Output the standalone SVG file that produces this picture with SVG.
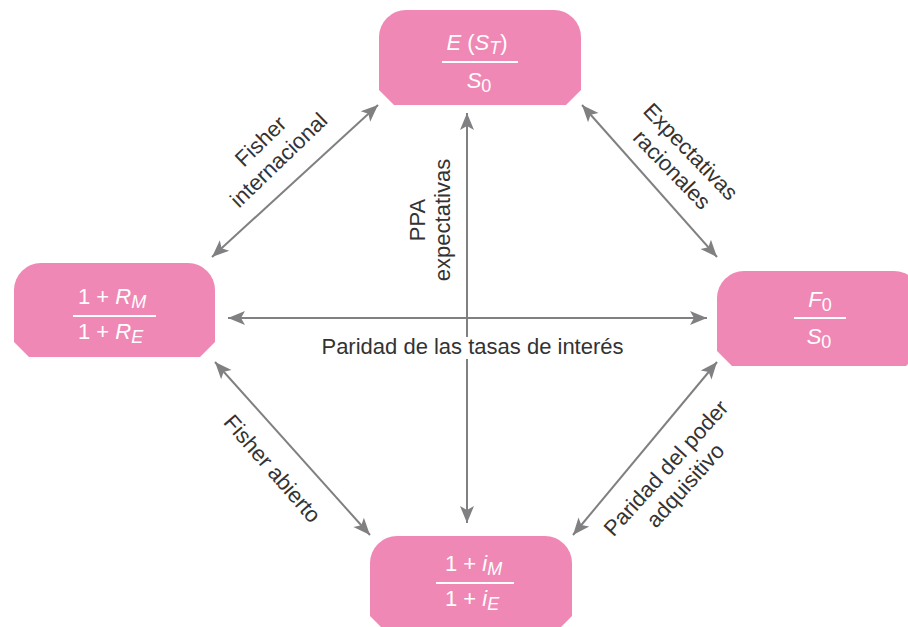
<svg xmlns="http://www.w3.org/2000/svg" width="908" height="627" viewBox="0 0 908 627">
<defs>
<style>
.node{fill:#F088B5;}
.frac{stroke:#ffffff;stroke-width:2;}
.nt{font-family:"Liberation Sans",Arial,sans-serif;font-size:22px;fill:#ffffff;}
.it{font-style:italic;}
.sub{font-size:18px;}
.conn{stroke:#808083;stroke-width:2;fill:none;marker-start:url(#ah);marker-end:url(#ah);}
.lbl{font-family:"Liberation Sans",Arial,sans-serif;font-size:22px;fill:#333333;text-anchor:middle;}
</style>
<marker id="ah" viewBox="-18 -8 19 16" markerWidth="19" markerHeight="16" refX="0" refY="0" markerUnits="userSpaceOnUse" orient="auto-start-reverse">
<path d="M0,0 L-17,-7 L-13,0 L-17,7 Z" fill="#808083"/>
</marker>
</defs>
<rect width="908" height="627" fill="#ffffff"/>
<g id="connectors">
<line class="conn" x1="212" y1="257" x2="378" y2="105"/>
<line class="conn" x1="582" y1="105" x2="717" y2="257"/>
<line class="conn" x1="215" y1="362" x2="370" y2="535"/>
<line class="conn" x1="717" y1="362" x2="573" y2="535"/>
<line class="conn" x1="467" y1="113" x2="467" y2="523"/>
<line class="conn" x1="228" y1="318" x2="707" y2="318"/>
</g>
<g id="labels">
<g transform="translate(270,151) rotate(-44)">
<text class="lbl" x="0" y="-6">Fisher</text>
<text class="lbl" x="0" y="20">internacional</text>
</g>
<g transform="translate(681,161) rotate(46)">
<text class="lbl" x="0" y="-6">Expectativas</text>
<text class="lbl" x="0" y="20">racionales</text>
</g>
<g transform="translate(272,469) rotate(49)">
<text class="lbl" x="0" y="7">Fisher abierto</text>
</g>
<g transform="translate(676,477) rotate(-48)">
<text class="lbl" x="0" y="-6">Paridad del poder</text>
<text class="lbl" x="0" y="20">adquisitivo</text>
</g>
<g transform="translate(437,220) rotate(-90)">
<text class="lbl" x="0" y="-12">PPA</text>
<text class="lbl" x="0" y="13">expectativas</text>
</g>
<rect x="452" y="337" width="40" height="22" fill="#ffffff"/>
<text class="lbl" x="472.5" y="354">Paridad de las tasas de interés</text>
</g>
<g id="node-top">
<path class="node" d="M379,37 A27,27 0 0 1 406,10 L554,10 A27,27 0 0 1 581,37 L581,90 L566,105 L394,105 L379,90 Z"/>
<text class="nt" x="477" y="50" text-anchor="middle"><tspan class="it">E</tspan> (<tspan class="it">S</tspan><tspan class="it sub" dy="4">T</tspan><tspan dy="-4">)</tspan></text>
<line class="frac" x1="442" y1="62" x2="518" y2="62"/>
<text class="nt" x="479" y="88" text-anchor="middle"><tspan class="it">S</tspan><tspan class="sub" dy="4">0</tspan></text>
</g>
<g id="node-left">
<path class="node" d="M14,290 A27,27 0 0 1 41,263 L188,263 A27,27 0 0 1 215,290 L215,342 L200,357 L29,357 L14,342 Z"/>
<text class="nt" x="78" y="304">1 + <tspan class="it">R</tspan><tspan class="it sub" dy="4">M</tspan></text>
<line class="frac" x1="73" y1="316" x2="156" y2="316"/>
<text class="nt" x="78" y="339">1 + <tspan class="it">R</tspan><tspan class="it sub" dy="4">E</tspan></text>
</g>
<g id="node-right">
<path class="node" d="M717,298 A27,27 0 0 1 744,271 L894,271 A27,27 0 0 1 921,298 L921,351 L906,366 L732,366 L717,351 Z"/>
<text class="nt" x="820" y="307" text-anchor="middle"><tspan class="it">F</tspan><tspan class="sub" dy="4">0</tspan></text>
<line class="frac" x1="794" y1="318" x2="846" y2="318"/>
<text class="nt" x="819" y="344" text-anchor="middle"><tspan class="it">S</tspan><tspan class="sub" dy="4">0</tspan></text>
</g>
<g id="node-bottom">
<path class="node" d="M370,563 A27,27 0 0 1 397,536 L545,536 A27,27 0 0 1 572,563 L572,616 L557,631 L385,631 L370,616 Z"/>
<text class="nt" x="445" y="571">1 + <tspan class="it">i</tspan><tspan class="it sub" dy="4">M</tspan></text>
<line class="frac" x1="436" y1="583" x2="514" y2="583"/>
<text class="nt" x="445" y="606">1 + <tspan class="it">i</tspan><tspan class="it sub" dy="4">E</tspan></text>
</g>
</svg>
